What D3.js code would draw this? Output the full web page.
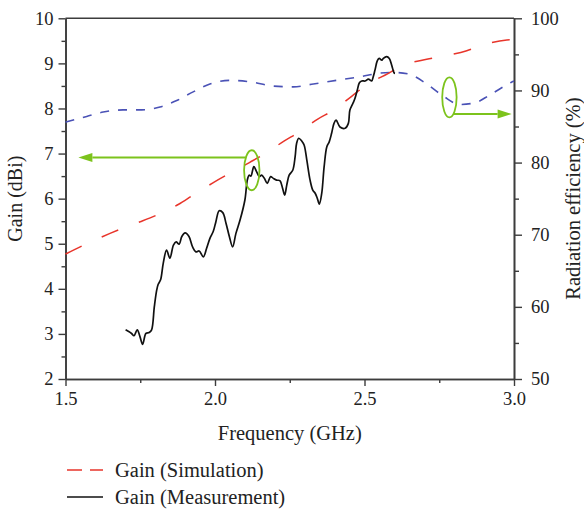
<!DOCTYPE html>
<html>
<head>
<meta charset="utf-8">
<script src="https://cdn.jsdelivr.net/npm/d3@7"></script>
<style>
  body { margin: 0; background: #fff; }
  svg { display: block; }
  text { font-family: "Liberation Serif", "Times New Roman", serif; fill: #222; }
</style>
</head>
<body>
<svg id="chart" width="584" height="509"></svg>
<script>
// ---- data ----
const freqTicks = [1.5, 2.0, 2.5, 3.0];
const freqMinor = [1.75, 2.25, 2.75];
const gainTicks = [2, 3, 4, 5, 6, 7, 8, 9, 10];
const gainMinor = [2.5, 3.5, 4.5, 5.5, 6.5, 7.5, 8.5, 9.5];
const effTicks = [50, 60, 70, 80, 90, 100];
const effMinor = [55, 65, 75, 85, 95];

// simulated gain (dBi)
const simFreq = [1.5, 1.555, 1.649, 1.682, 1.755, 1.81, 1.877, 1.927, 1.993, 2.115, 2.165, 2.232, 2.282,
                 2.345, 2.396, 2.457, 2.507, 2.58, 2.63, 2.708, 2.764, 2.842, 2.897, 2.976, 3.0];
const simGain = [4.77, 4.95, 5.23, 5.32, 5.50, 5.65, 5.87, 6.08, 6.35, 6.80, 6.99, 7.28, 7.48,
                 7.77, 7.96, 8.27, 8.52, 8.78, 8.96, 9.09, 9.16, 9.28, 9.41, 9.52, 9.53];

// measured gain (dBi)
const measFreq = [1.701, 1.721, 1.729, 1.740, 1.749, 1.758, 1.769, 1.780, 1.788, 1.797, 1.805, 1.810, 1.818,
                  1.827, 1.838, 1.849, 1.861, 1.870, 1.880, 1.889, 1.900, 1.913, 1.925, 1.936, 1.947, 1.961,
                  1.972, 1.983, 1.994, 2.003, 2.014, 2.026, 2.037, 2.048, 2.059, 2.070, 2.084, 2.100, 2.108,
                  2.114, 2.120, 2.130, 2.139, 2.148, 2.156, 2.165, 2.175, 2.186, 2.195, 2.206, 2.217, 2.226,
                  2.233, 2.240, 2.248, 2.260, 2.268, 2.273, 2.280, 2.290, 2.298, 2.307, 2.318, 2.327, 2.335,
                  2.342, 2.349, 2.357, 2.365, 2.374, 2.382, 2.390, 2.398, 2.405, 2.418, 2.435, 2.446, 2.451,
                  2.461, 2.468, 2.476, 2.483, 2.491, 2.502, 2.513, 2.524, 2.529, 2.535, 2.543, 2.549, 2.558,
                  2.563, 2.574, 2.583, 2.591, 2.599, 2.602];
const measGain = [3.09, 3.01, 2.96, 3.09, 2.94, 2.77, 3.01, 3.03, 3.09, 3.60, 3.97, 4.10, 4.20,
                  4.57, 4.86, 4.68, 4.97, 5.04, 4.99, 5.16, 5.24, 5.16, 4.93, 4.82, 4.84, 4.71,
                  4.90, 5.12, 5.27, 5.49, 5.73, 5.69, 5.45, 5.16, 4.93, 5.23, 5.53, 5.97, 6.41,
                  6.52, 6.50, 6.71, 6.60, 6.49, 6.52, 6.45, 6.34, 6.49, 6.45, 6.41, 6.40, 6.23,
                  6.08, 6.30, 6.52, 6.63, 6.93, 7.23, 7.34, 7.28, 7.19, 6.86, 6.41, 6.19, 6.12,
                  6.01, 5.88, 6.12, 6.71, 7.15, 7.26, 7.45, 7.67, 7.74, 7.59, 7.56, 7.67, 7.96,
                  8.11, 8.22, 8.41, 8.57, 8.61, 8.61, 8.65, 8.61, 8.70, 8.85, 9.06, 9.11, 9.07,
                  9.11, 9.15, 9.11, 8.96, 8.79, 8.78];

// radiation efficiency (%)
const effFreq = [1.5, 1.571, 1.626, 1.693, 1.755, 1.816, 1.872, 1.927, 1.983, 2.047, 2.117, 2.195, 2.262,
                 2.329, 2.407, 2.485, 2.552, 2.596, 2.645, 2.708, 2.764, 2.819, 2.870, 2.920, 2.990, 3.0];
const effVal  = [85.6, 86.4, 87.0, 87.3, 87.3, 87.7, 88.6, 89.8, 90.9, 91.4, 91.2, 90.6, 90.5,
                 90.9, 91.4, 91.9, 92.4, 92.5, 92.3, 90.9, 89.2, 88.05, 88.3, 89.4, 91.1, 91.3];

const legendLabels = ["Gain (Simulation)", "Gain (Measurement)"];

// ---- layout ----
const svg = d3.select("#chart");
const plotL = 65.5, plotR = 514, plotT = 18.3, plotB = 379;

const x = d3.scaleLinear().domain([1.5, 3.0]).range([plotL, plotR]);
const yG = d3.scaleLinear().domain([2, 10]).range([plotB, plotT]);
const yE = d3.scaleLinear().domain([50, 100]).range([plotB, plotT]);

const axisColor = "#3c3c3c";
const fontSize = 18.5;

function styleAxis(g) {
  g.selectAll(".domain").attr("stroke", axisColor).attr("stroke-width", 1.6);
  g.selectAll(".tick line").attr("stroke", axisColor).attr("stroke-width", 1.4);
  g.selectAll("text").attr("font-size", fontSize).attr("font-family", '"Liberation Serif", serif').attr("fill", "#222");
}

// x axis
svg.append("g").attr("transform", `translate(0,${plotB})`)
  .call(d3.axisBottom(x).tickValues(freqMinor).tickSize(4).tickSizeOuter(0).tickFormat(""))
  .call(styleAxis);
svg.append("g").attr("transform", `translate(0,${plotB})`)
  .call(d3.axisBottom(x).tickValues(freqTicks).tickSize(7).tickSizeOuter(0).tickPadding(6).tickFormat(d3.format(".1f")))
  .call(styleAxis);

// left gain axis
svg.append("g").attr("transform", `translate(${plotL},0)`)
  .call(d3.axisLeft(yG).tickValues(gainMinor).tickSize(4).tickSizeOuter(0).tickFormat(""))
  .call(styleAxis);
svg.append("g").attr("transform", `translate(${plotL},0)`)
  .call(d3.axisLeft(yG).tickValues(gainTicks).tickSize(7).tickSizeOuter(0).tickPadding(5).tickFormat(d3.format("d")))
  .call(styleAxis);

// right efficiency axis
svg.append("g").attr("transform", `translate(${plotR},0)`)
  .call(d3.axisRight(yE).tickValues(effMinor).tickSize(5).tickSizeOuter(0).tickFormat(""))
  .call(styleAxis);
svg.append("g").attr("transform", `translate(${plotR},0)`)
  .call(d3.axisRight(yE).tickValues(effTicks).tickSize(8).tickSizeOuter(0).tickPadding(9).tickFormat(d3.format("d")))
  .call(styleAxis);

// top frame
svg.append("line")
  .attr("x1", x(1.5)).attr("x2", x(3.0)).attr("y1", yG(10)).attr("y2", yG(10))
  .attr("stroke", axisColor).attr("stroke-width", 1.6);

// axis titles
svg.append("text").attr("x", (plotL + plotR) / 2).attr("y", 440)
  .attr("text-anchor", "middle").attr("font-size", 20.5).text("Frequency (GHz)");
svg.append("text").attr("transform", `translate(22,${(plotT + plotB) / 2}) rotate(-90)`)
  .attr("text-anchor", "middle").attr("font-size", 20).text("Gain (dBi)");
svg.append("text").attr("transform", `translate(580,${(plotT + plotB) / 2}) rotate(-90)`)
  .attr("text-anchor", "middle").attr("font-size", 20.5).text("Radiation efficiency (%)");

// ---- series ----
const effLine = d3.line().x(d => x(d[0])).y(d => yE(d[1])).curve(d3.curveMonotoneX);
svg.append("path").datum(d3.zip(effFreq, effVal))
  .attr("d", effLine).attr("fill", "none")
  .attr("stroke", "#4a52b6").attr("stroke-width", 1.6).attr("stroke-dasharray", "9,9");

const gainLine = d3.line().x(d => x(d[0])).y(d => yG(d[1])).curve(d3.curveMonotoneX);
svg.append("path").datum(d3.zip(simFreq, simGain))
  .attr("d", gainLine).attr("fill", "none")
  .attr("stroke", "#e8352b").attr("stroke-width", 1.5).attr("stroke-dasharray", "18,22");

svg.append("path").datum(d3.zip(measFreq, measGain))
  .attr("d", d3.line().x(d => x(d[0])).y(d => yG(d[1])).curve(d3.curveCatmullRom))
  .attr("fill", "none").attr("stroke", "#111").attr("stroke-width", 1.7);

// ---- annotations: ellipses with arrows pointing to the relevant axis ----
const green = "#7cc31c";
function ellipseArrow(cx, cy, rx, ry, yArrow, xTip) {
  svg.append("ellipse").attr("cx", cx).attr("cy", cy).attr("rx", rx).attr("ry", ry)
    .attr("fill", "none").attr("stroke", green).attr("stroke-width", 1.8);
  const dy = yArrow - cy;
  const dx = rx * Math.sqrt(Math.max(0, 1 - (dy / ry) ** 2));
  const dir = xTip < cx ? -1 : 1;
  const xStart = cx + dir * dx;
  const headLen = 14, headHalf = 4.5;
  svg.append("line").attr("x1", xStart).attr("x2", xTip - dir * headLen)
    .attr("y1", yArrow).attr("y2", yArrow)
    .attr("stroke", green).attr("stroke-width", 2);
  svg.append("path")
    .attr("d", `M${xTip},${yArrow}L${xTip - dir * headLen},${yArrow - headHalf}L${xTip - dir * headLen},${yArrow + headHalf}Z`)
    .attr("fill", green);
}
// gain curve marker -> left axis
ellipseArrow(x(2.123), yG(6.63), 7.7, 20, yG(6.91), x(1.543));
// efficiency curve marker -> right axis
ellipseArrow(x(2.784), yE(89.05), 7.2, 20, yE(86.73), x(2.992));

// ---- legend ----
const legend = svg.append("g");
const legY = [470, 497];
legend.append("line").attr("x1", 67).attr("x2", 103).attr("y1", legY[0]).attr("y2", legY[0])
  .attr("stroke", "#e8352b").attr("stroke-width", 1.5).attr("stroke-dasharray", "15,8");
legend.append("line").attr("x1", 67).attr("x2", 103).attr("y1", legY[1]).attr("y2", legY[1])
  .attr("stroke", "#111").attr("stroke-width", 1.5);
legendLabels.forEach((t, i) => {
  legend.append("text").attr("x", 115).attr("y", legY[i] + 6.5).attr("font-size", 20.5).text(t);
});
</script>
</body>
</html>
